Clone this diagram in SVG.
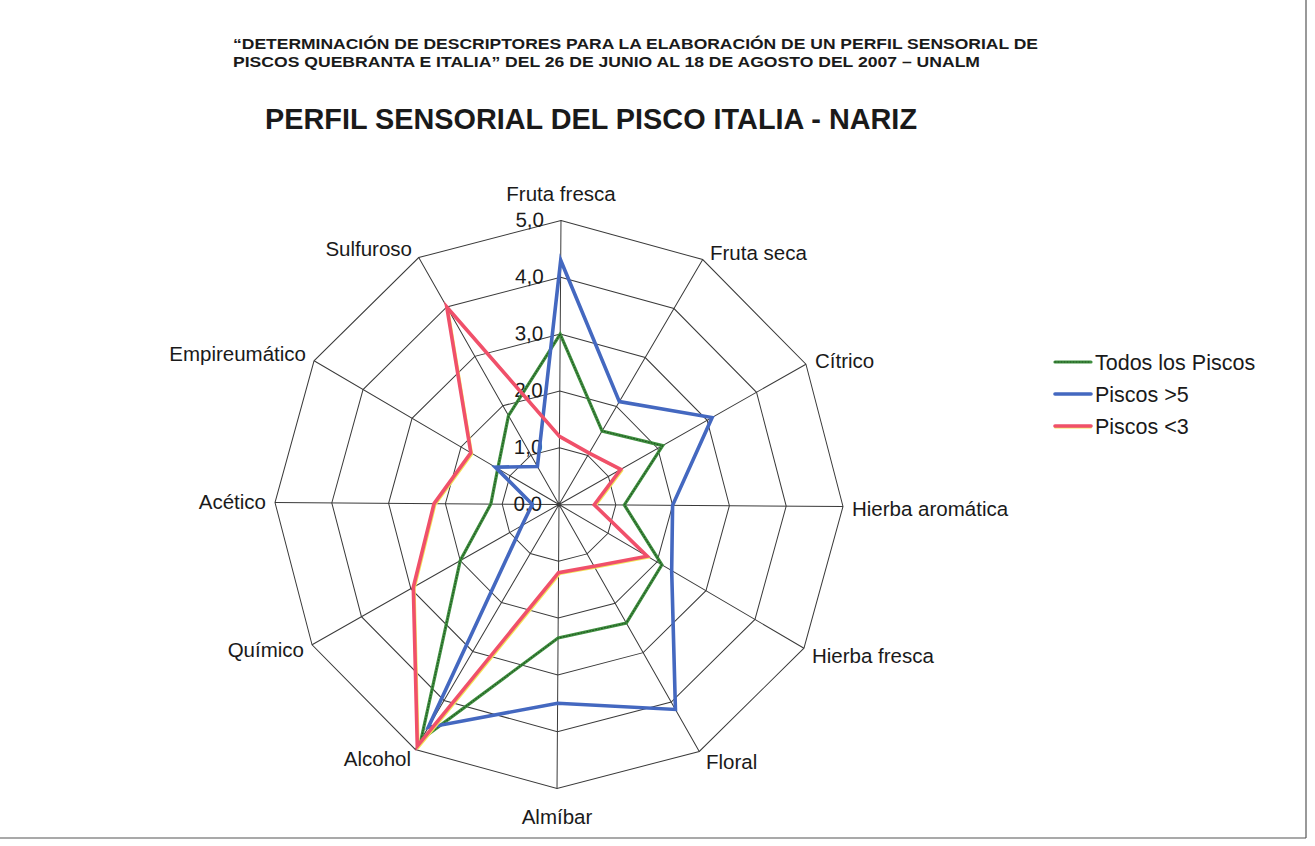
<svg xmlns="http://www.w3.org/2000/svg" width="1315" height="846" viewBox="0 0 1315 846">
<style>
.grid{fill:none;stroke:#3a3a3a;stroke-width:1}
.lbl{font-family:"Liberation Sans",Arial,sans-serif;font-size:20.5px;fill:#1a1a1a}
.leg{font-family:"Liberation Sans",Arial,sans-serif;font-size:21.5px;fill:#1a1a1a}
.tick{font-family:"Liberation Sans",Arial,sans-serif;font-size:20.5px;fill:#1a1a1a;text-anchor:end}
.t1{font-family:"Liberation Sans",Arial,sans-serif;font-weight:bold;font-size:15px;fill:#1a1a1a}
.t2{font-family:"Liberation Sans",Arial,sans-serif;font-weight:bold;font-size:30px;fill:#1a1a1a}
.s{fill:none;stroke-linejoin:miter;stroke-linecap:round}
.green{stroke:#3f8f3f;stroke-width:3.2}
.greendot{stroke:#1f4f1f;stroke-width:1;stroke-dasharray:1 2}
.blue{stroke:#4468c0;stroke-width:3.6}
.red{stroke:#f0506a;stroke-width:3.6}
.yel{stroke:#f2e65a;stroke-width:2}
</style>
<rect width="1315" height="846" fill="#ffffff"/>
<g id="frame" stroke="#555" stroke-width="1.2" fill="none">
<line x1="0" y1="838" x2="1306" y2="838"/>
<line x1="1306" y1="0" x2="1306" y2="838"/>
</g>
<g id="titles">
<text class="t1" x="233" y="49" textLength="805" lengthAdjust="spacingAndGlyphs">“DETERMINACIÓN DE DESCRIPTORES PARA LA ELABORACIÓN DE UN PERFIL SENSORIAL DE</text>
<text class="t1" x="233" y="67" textLength="747" lengthAdjust="spacingAndGlyphs">PISCOS QUEBRANTA E ITALIA” DEL 26 DE JUNIO AL 18 DE AGOSTO DEL 2007 – UNALM</text>
<text class="t2" x="265" y="129" textLength="652" lengthAdjust="spacingAndGlyphs">PERFIL SENSORIAL DEL PISCO ITALIA - NARIZ</text>
</g>
<g id="chart" transform="translate(559 504.5) rotate(0.4)">
<g id="grid" class="grid">
<polygon points="0,-56.8 28.4,-49.19 49.19,-28.4 56.8,0 49.19,28.4 28.4,49.19 0,56.8 -28.4,49.19 -49.19,28.4 -56.8,0 -49.19,-28.4 -28.4,-49.19"/>
<polygon points="0,-113.6 56.8,-98.38 98.38,-56.8 113.6,0 98.38,56.8 56.8,98.38 0,113.6 -56.8,98.38 -98.38,56.8 -113.6,0 -98.38,-56.8 -56.8,-98.38"/>
<polygon points="0,-170.4 85.2,-147.57 147.57,-85.2 170.4,0 147.57,85.2 85.2,147.57 0,170.4 -85.2,147.57 -147.57,85.2 -170.4,0 -147.57,-85.2 -85.2,-147.57"/>
<polygon points="0,-227.2 113.6,-196.76 196.76,-113.6 227.2,0 196.76,113.6 113.6,196.76 0,227.2 -113.6,196.76 -196.76,113.6 -227.2,0 -196.76,-113.6 -113.6,-196.76"/>
<polygon points="0,-284 142,-245.95 245.95,-142 284,0 245.95,142 142,245.95 0,284 -142,245.95 -245.95,142 -284,0 -245.95,-142 -142,-245.95"/>
<path d="M0,0L0,-284M0,0L142,-245.95M0,0L245.95,-142M0,0L284,0M0,0L245.95,142M0,0L142,245.95M0,0L0,284M0,0L-142,245.95M0,0L-245.95,142M0,0L-284,0M0,0L-245.95,-142M0,0L-142,-245.95"/>
</g>
<g id="ticks">
<text class="tick" x="-17" y="-277.5">5,0</text>
<text class="tick" x="-17" y="-220.7">4,0</text>
<text class="tick" x="-17" y="-163.9">3,0</text>
<text class="tick" x="-17" y="-107.1">2,0</text>
<text class="tick" x="-17" y="-50.3">1,0</text>
<text class="tick" x="-17" y="6.5">0,0</text>
</g>
<g id="series-todos">
<polygon class="s green" points="0,-170.4 42.6,-73.78 103.3,-59.64 65.32,0 103.3,59.64 68.16,118.05 0,133.48 -136.32,236.11 -98.38,56.8 -68.16,0 -61.49,-35.5 -51.12,-88.54"/>
<polygon class="s greendot" points="0,-170.4 42.6,-73.78 103.3,-59.64 65.32,0 103.3,59.64 68.16,118.05 0,133.48 -136.32,236.11 -98.38,56.8 -68.16,0 -61.49,-35.5 -51.12,-88.54"/>
</g>
<g id="series-mayor5">
<polygon class="s blue" points="0,-244.24 59.64,-103.3 152.49,-88.04 113.6,0 113.14,65.32 117.86,204.14 0,198.8 -129.22,223.82 -36.89,21.3 -26.7,0 -63.95,-36.92 -21.87,-37.88"/>
</g>
<g id="series-menor3">
<polygon class="s yel" transform="translate(1.4 1.4)" points="0,-68.16 29.82,-51.65 61.49,-35.5 35.22,0 88.54,51.12 35.5,61.49 0,68.16 -140.01,242.51 -145.11,83.78 -124.96,0 -88.54,-51.12 -113.6,-196.76"/>
<polygon class="s red" points="0,-68.16 29.82,-51.65 61.49,-35.5 35.22,0 88.54,51.12 35.5,61.49 0,68.16 -140.01,242.51 -145.11,83.78 -124.96,0 -88.54,-51.12 -113.6,-196.76"/>
</g>
</g>
<g id="axis-labels">
<text class="lbl" x="561" y="201" text-anchor="middle">Fruta fresca</text>
<text class="lbl" x="710" y="260">Fruta seca</text>
<text class="lbl" x="815" y="368">Cítrico</text>
<text class="lbl" x="852" y="516">Hierba aromática</text>
<text class="lbl" x="812" y="663">Hierba fresca</text>
<text class="lbl" x="706" y="769">Floral</text>
<text class="lbl" x="557" y="824" text-anchor="middle">Almíbar</text>
<text class="lbl" x="411" y="766" text-anchor="end">Alcohol</text>
<text class="lbl" x="304" y="657" text-anchor="end">Químico</text>
<text class="lbl" x="266" y="509" text-anchor="end">Acético</text>
<text class="lbl" x="306" y="361" text-anchor="end">Empireumático</text>
<text class="lbl" x="412" y="256" text-anchor="end">Sulfuroso</text>
</g>
<g id="legend">
<line class="s green" x1="1055" y1="362" x2="1091" y2="362"/>
<line class="s greendot" x1="1055" y1="362" x2="1091" y2="362"/>
<text class="leg" x="1095" y="370">Todos los Piscos</text>
<line class="s blue" x1="1055" y1="394" x2="1091" y2="394"/>
<text class="leg" x="1095" y="402">Piscos &gt;5</text>
<line class="s yel" x1="1055" y1="427.5" x2="1091" y2="427.5"/>
<line class="s red" x1="1055" y1="426" x2="1091" y2="426"/>
<text class="leg" x="1095" y="434">Piscos &lt;3</text>
</g>
</svg>
